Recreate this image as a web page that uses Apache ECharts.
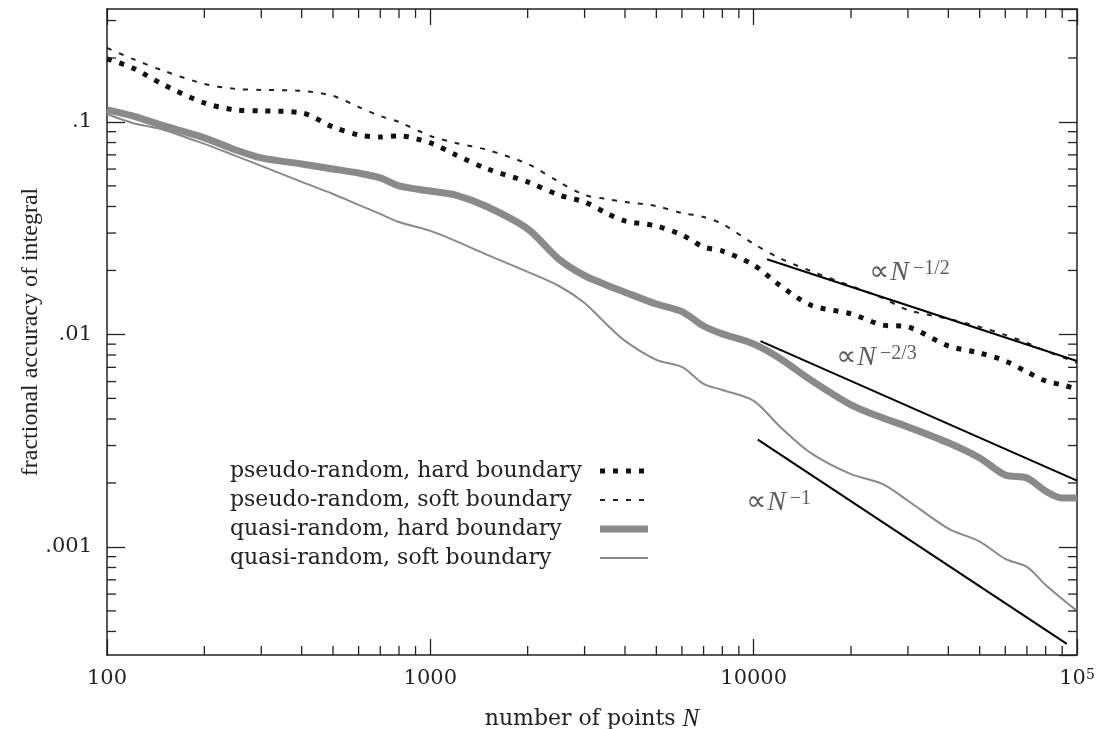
<!DOCTYPE html>
<html><head><meta charset="utf-8">
<script src="https://cdn.jsdelivr.net/npm/echarts@6/dist/echarts.min.js"></script>
<style>html,body{margin:0;padding:0;background:#fff}#c{width:1099px;height:729px}</style>
</head><body><div id="c"></div>
<script>
// ---- data ----
const nGrid = [100,120,150,200,250,300,400,500,600,700,800,1000,1200,1500,2000,2500,3000,3500,4000,5000,6000,7000,8000,10000,12000,15000,20000,25000,30000,40000,50000,60000,70000,80000,90000,100000];
const pseudoHard = [0.198,0.1795,0.1493,0.1228,0.1139,0.1128,0.1103,0.0947,0.0869,0.085,0.0859,0.0796,0.0699,0.0601,0.0522,0.0453,0.042,0.0373,0.0342,0.0324,0.0294,0.0258,0.0247,0.0212,0.0171,0.01376,0.01249,0.01108,0.01085,0.00883,0.00818,0.0075,0.00666,0.00604,0.00579,0.00554];
const pseudoSoft = [0.2228,0.198,0.1738,0.151,0.143,0.1415,0.14,0.1326,0.1176,0.1067,0.1,0.0859,0.0796,0.0738,0.0634,0.0522,0.0453,0.0434,0.042,0.0402,0.0373,0.0357,0.0331,0.0267,0.0229,0.0199,0.0169,0.01485,0.01304,0.01183,0.01085,0.00995,0.00912,0.00836,0.00783,0.00734];
const quasiHard = [0.1139,0.1067,0.0958,0.0841,0.0738,0.0677,0.0634,0.0601,0.0575,0.0545,0.05,0.0473,0.0453,0.0399,0.0314,0.0226,0.0189,0.0171,0.0158,0.0139,0.0128,0.01096,0.01006,0.00902,0.00775,0.00611,0.00466,0.00405,0.00367,0.00309,0.00262,0.00218,0.00211,0.00183,0.0017,0.0017];
const quasiSoft = [0.109,0.0989,0.0917,0.0788,0.0692,0.0621,0.0522,0.0458,0.0407,0.0369,0.0338,0.0307,0.0275,0.0237,0.0197,0.0169,0.01407,0.0112,0.00932,0.00759,0.00703,0.00585,0.00548,0.00487,0.00371,0.00277,0.0022,0.00198,0.00165,0.00122,0.00106,0.000878,0.000805,0.000662,0.000569,0.0005];

const refHalf = [[11000,0.0226],[100000,0.0075]];
const refTwoThirds = [[10500,0.0093],[100000,0.00205]];
const refOne = [[10300,0.0032],[93000,0.00035]];

const annotN = [22700, 17950, 9445];
const annotV = [0.0195, 0.00775, 0.00161];
const annotExp = ['\u22121/2', '\u22122/3', '\u22121'];

const seriesNames = ['pseudo-random, hard boundary','pseudo-random, soft boundary','quasi-random, hard boundary','quasi-random, soft boundary'];

const xTickLabels = {100:'100', 1000:'1000', 10000:'10000', 100000:'{b|10}{s|5}'};
const yTickLabels = {'0.1':'.1', '0.01':'.01', '0.001':'.001'};
const xMinorTicks = [200,300,400,500,600,700,800,900,2000,3000,4000,5000,6000,7000,8000,9000,20000,30000,40000,50000,60000,70000,80000,90000];
const yMinorTicks = [0.0004,0.0005,0.0006,0.0007,0.0008,0.0009,0.002,0.003,0.004,0.005,0.006,0.007,0.008,0.009,0.02,0.03,0.04,0.05,0.06,0.07,0.08,0.09,0.2,0.3];

// ---- style ----
const X_MIN = 100, X_MAX = 100000, Y_MIN = 0.00031, Y_MAX = 0.34;
const FONT = 'DejaVu Serif';
const TXT = '#222';
const AX = '#222';
const GRAY = '#8a8a8a';
const MINOR = 9, MAJOR = 16;

const chart = echarts.init(document.getElementById('c'));

function pair(xs, ys){ return xs.map((x,i)=>[x, ys[i]]); }

const styles = [
  {color:'#111', width:5, type:[5,8], cap:'butt'},
  {color:'#222', width:2, type:[5,8], cap:'butt'},
  {color:GRAY, width:7, type:'solid', cap:'butt'},
  {color:GRAY, width:2, type:'solid', cap:'butt'}
];
const values = [pseudoHard, pseudoSoft, quasiHard, quasiSoft];

const dataSeries = seriesNames.map((nm,i)=>({
  name: nm, type:'line', data: pair(nGrid, values[i]), symbol:'none', showSymbol:false, smooth:0.3,
  lineStyle: styles[i], itemStyle:{color:styles[i].color}, silent:true, z: 3
}));

const refSeries = [refHalf, refTwoThirds, refOne].map((d,i)=>({
  name:'ref'+i, type:'line', data:d, symbol:'none', silent:true, z:4,
  lineStyle:{color:'#000', width:2}, itemStyle:{color:'#000'}
}));

const annotSeries = {
  name:'annot', type:'scatter', silent:true, symbolSize:1, itemStyle:{color:'rgba(0,0,0,0)'},
  data: annotN.map((n,i)=>({value:[n, annotV[i]], label:{formatter:'{p|\u221d}{n|N}{s|'+annotExp[i]+'}'}})),
  label:{show:true, position:'right', distance:0, color:TXT,
    rich:{
      p:{fontFamily:'DejaVu Sans', fontSize:28, color:'#333', verticalAlign:'bottom', padding:[0,1,0,0]},
      n:{fontFamily:'Liberation Serif', fontStyle:'italic', fontSize:28, color:'#333', verticalAlign:'bottom'},
      s:{fontFamily:'Liberation Serif', fontSize:20, color:'#333', verticalAlign:'top', padding:[0,0,0,4]}
    }}
};

const xMinorSeries = {
  name:'xminor', type:'custom', silent:true, z:5,
  data: xMinorTicks.map(v=>[v, Y_MIN]),
  renderItem: (params, api) => {
    const v = api.value(0);
    const pb = api.coord([v, Y_MIN]);
    const pt = api.coord([v, Y_MAX]);
    return {type:'group', children:[
      {type:'line', shape:{x1:pb[0],y1:pb[1],x2:pb[0],y2:pb[1]-MINOR}, style:{stroke:AX, lineWidth:1.3}},
      {type:'line', shape:{x1:pt[0],y1:pt[1],x2:pt[0],y2:pt[1]+MINOR}, style:{stroke:AX, lineWidth:1.3}}
    ]};
  }
};
const yMinorSeries = {
  name:'yminor', type:'custom', silent:true, z:5,
  data: yMinorTicks.map(v=>[X_MIN, v]),
  renderItem: (params, api) => {
    const v = api.value(1);
    const pl = api.coord([X_MIN, v]);
    const pr = api.coord([X_MAX, v]);
    return {type:'group', children:[
      {type:'line', shape:{x1:pl[0],y1:pl[1],x2:pl[0]+MINOR,y2:pl[1]}, style:{stroke:AX, lineWidth:1.3}},
      {type:'line', shape:{x1:pr[0],y1:pr[1],x2:pr[0]-MINOR,y2:pr[1]}, style:{stroke:AX, lineWidth:1.3}}
    ]};
  }
};

const axisLine = {show:true, lineStyle:{color:AX, width:1.5}};
const tick = {show:true, inside:true, length:MAJOR, lineStyle:{color:AX, width:1.3}};

chart.setOption({
  animation:false,
  backgroundColor:'#fff',
  grid:{left:107, top:9, right:22, bottom:74, outerBoundsMode:'none', containLabel:false},
  xAxis:[
    {type:'log', logBase:10, min:X_MIN, max:X_MAX, position:'bottom',
     axisLine, axisTick:tick, splitLine:{show:false},
     axisLabel:{show:true, margin:13, color:TXT, fontFamily:FONT, fontSize:21,
       formatter:(v)=> xTickLabels[Math.round(v)] || '',
       rich:{b:{fontFamily:FONT, fontSize:21, color:TXT, verticalAlign:'bottom'}, s:{fontFamily:FONT, fontSize:14, color:TXT, verticalAlign:'top'}}},
     name:'{a|number of points }{i|N}', nameLocation:'middle', nameGap:52, nameMoveOverlap:false,
     nameTextStyle:{rich:{a:{fontFamily:FONT, fontSize:22, color:TXT}, i:{fontFamily:'Liberation Serif', fontStyle:'italic', fontSize:25, color:TXT}}}},
    {type:'log', logBase:10, min:X_MIN, max:X_MAX, position:'top',
     axisLine, axisTick:tick, axisLabel:{show:false}, splitLine:{show:false}}
  ],
  yAxis:[
    {type:'log', logBase:10, min:Y_MIN, max:Y_MAX, position:'left',
     axisLine, axisTick:Object.assign({}, tick, {length:18}), splitLine:{show:false},
     axisLabel:{show:true, margin:15, color:TXT, fontFamily:FONT, fontSize:21,
       showMinLabel:false, showMaxLabel:false,
       formatter:(v)=>{ const k = String(+v.toPrecision(3)); return yTickLabels[k] || ''; }},
     name:'fractional accuracy of integral', nameLocation:'middle', nameGap:64, nameRotate:90, nameMoveOverlap:false,
     nameTextStyle:{fontFamily:'Liberation Serif', fontSize:24, color:TXT}},
    {type:'log', logBase:10, min:Y_MIN, max:Y_MAX, position:'right',
     axisLine, axisTick:Object.assign({}, tick, {length:18}), axisLabel:{show:false}, splitLine:{show:false}}
  ],
  legend:{
    show:true, orient:'vertical', left:225, top:454, align:'right', selectedMode:false,
    itemWidth:48, itemHeight:14, itemGap:5,
    formatter:(nm)=>'{t|'+nm+'}',
    textStyle:{fontFamily:FONT, fontSize:22, color:TXT, lineHeight:24,
      rich:{t:{fontFamily:FONT, fontSize:22, color:TXT, width:365, align:'left', lineHeight:24}}},
    data: seriesNames.map((nm,i)=>({name:nm, itemStyle:{opacity:0, color:'rgba(0,0,0,0)', borderWidth:0},
      lineStyle:{color:styles[i].color, width:styles[i].width, type:styles[i].type, cap:'butt', opacity:1}}))
  },
  series:[...dataSeries, ...refSeries, annotSeries, xMinorSeries, yMinorSeries]
});
</script>
</body></html>
